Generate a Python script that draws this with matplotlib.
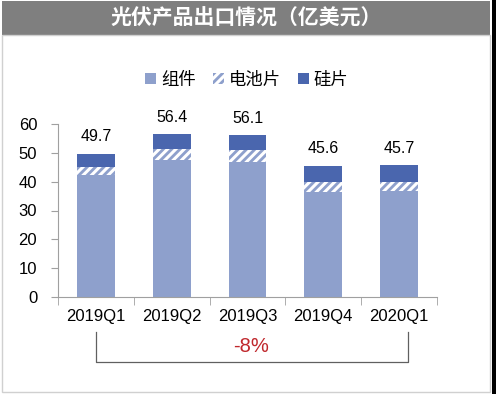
import matplotlib
matplotlib.use("Agg")
import matplotlib.pyplot as plt
from matplotlib.patches import Rectangle, Patch
from matplotlib.lines import Line2D
import numpy as np

plt.rcParams['font.family'] = ['Liberation Sans', 'Noto Sans CJK SC', 'DejaVu Sans']
plt.rcParams['hatch.linewidth'] = 2.2

categories = ['2019Q1', '2019Q2', '2019Q3', '2019Q4', '2020Q1']
modules = [42.4, 47.6, 46.8, 36.3, 36.6]
cells = [2.8, 3.8, 4.2, 3.7, 3.4]
wafers = [4.5, 5.0, 5.1, 5.6, 5.7]
totals = [49.7, 56.4, 56.1, 45.6, 45.7]
series_names = ['组件', '电池片', '硅片']
title = '光伏产品出口情况（亿美元）'
change_label = '-8%'

c_mod = '#8EA0CC'
c_waf = '#4A66AE'

W, H = 496, 394
fig = plt.figure(figsize=(W / 100, H / 100), dpi=100)

# title band and frame
fig.patches.append(Rectangle((2 / W, 1 - 35 / H), 488 / W, 34 / H, transform=fig.transFigure,
                             facecolor='#7F7F7F', edgecolor='none', zorder=0))
fig.patches.append(Rectangle((2 / W, 2 / H), 488 / W, (H - 37) / H, transform=fig.transFigure,
                             facecolor='none', edgecolor='#D0D0D0', linewidth=1, zorder=0))
fig.patches.append(Rectangle((492 / W, 0), 4 / W, 1, transform=fig.transFigure,
                             facecolor='black', edgecolor='none', zorder=0))
fig.text(246 / W, 1 - 18 / H, title, color='white', fontsize=15, fontweight='bold',
         ha='center', va='center', family=['Noto Sans CJK SC'])

ax = fig.add_axes([58 / W, 1 - 297 / H, (437 - 58) / W, (297 - 124) / H])
x = np.arange(len(categories))
bw = 0.5
ax.bar(x, modules, bw, color=c_mod, linewidth=0, zorder=2)
ax.bar(x, cells, bw, bottom=modules, facecolor=c_mod, edgecolor='white', hatch='////',
       linewidth=0, zorder=2)
bot2 = [m + c for m, c in zip(modules, cells)]
ax.bar(x, wafers, bw, bottom=bot2, color=c_waf, linewidth=0, zorder=2)

for xi, t in zip(x, totals):
    ax.text(xi, t + 3.2, f'{t:.1f}', ha='center', va='bottom', fontsize=11.5, color='black')

ax.set_xlim(-0.5, len(categories) - 0.5)
ax.set_ylim(0, 60)
ax.set_yticks(range(0, 61, 10))
ax.set_xticks(x)
ax.set_xticklabels(categories, fontsize=12)
ax.set_xticks(np.arange(-0.5, len(categories)), minor=True)
ax.tick_params(axis='x', which='major', length=0, pad=9)
ax.tick_params(axis='x', which='minor', length=6, color='#A0A0A0', direction='out')
ax.tick_params(axis='y', length=5, color='#A0A0A0', labelsize=12, pad=10)
for s in ['top', 'right']:
    ax.spines[s].set_visible(False)
ax.spines['left'].set_color('#A0A0A0')
ax.spines['bottom'].set_color('#A0A0A0')

# legend
handles = [Patch(facecolor=c_mod, edgecolor='none'),
           Patch(facecolor=c_mod, edgecolor='white', hatch='////', linewidth=0),
           Patch(facecolor=c_waf, edgecolor='none')]
fig.legend(handles, series_names, loc='center', bbox_to_anchor=(247 / W, 1 - 80 / H),
           ncol=3, frameon=False, handlelength=0.6, handleheight=0.6,
           handletextpad=0.3, columnspacing=1.0, prop={'family': ['Noto Sans CJK SC'], 'size': 12.5})

# bracket
bx0, bx1 = 96 / W, 408 / W
by0, by1 = 1 - 332 / H, 1 - 362 / H
fig.lines.append(Line2D([bx0, bx0, bx1, bx1], [by0, by1, by1, by0], transform=fig.transFigure,
                        color='#606060', linewidth=0.9))
fig.text(251 / W, 1 - 346 / H, change_label, color='#C0282D', fontsize=14.5, ha='center', va='center')

fig.savefig('out.png', dpi=100)
